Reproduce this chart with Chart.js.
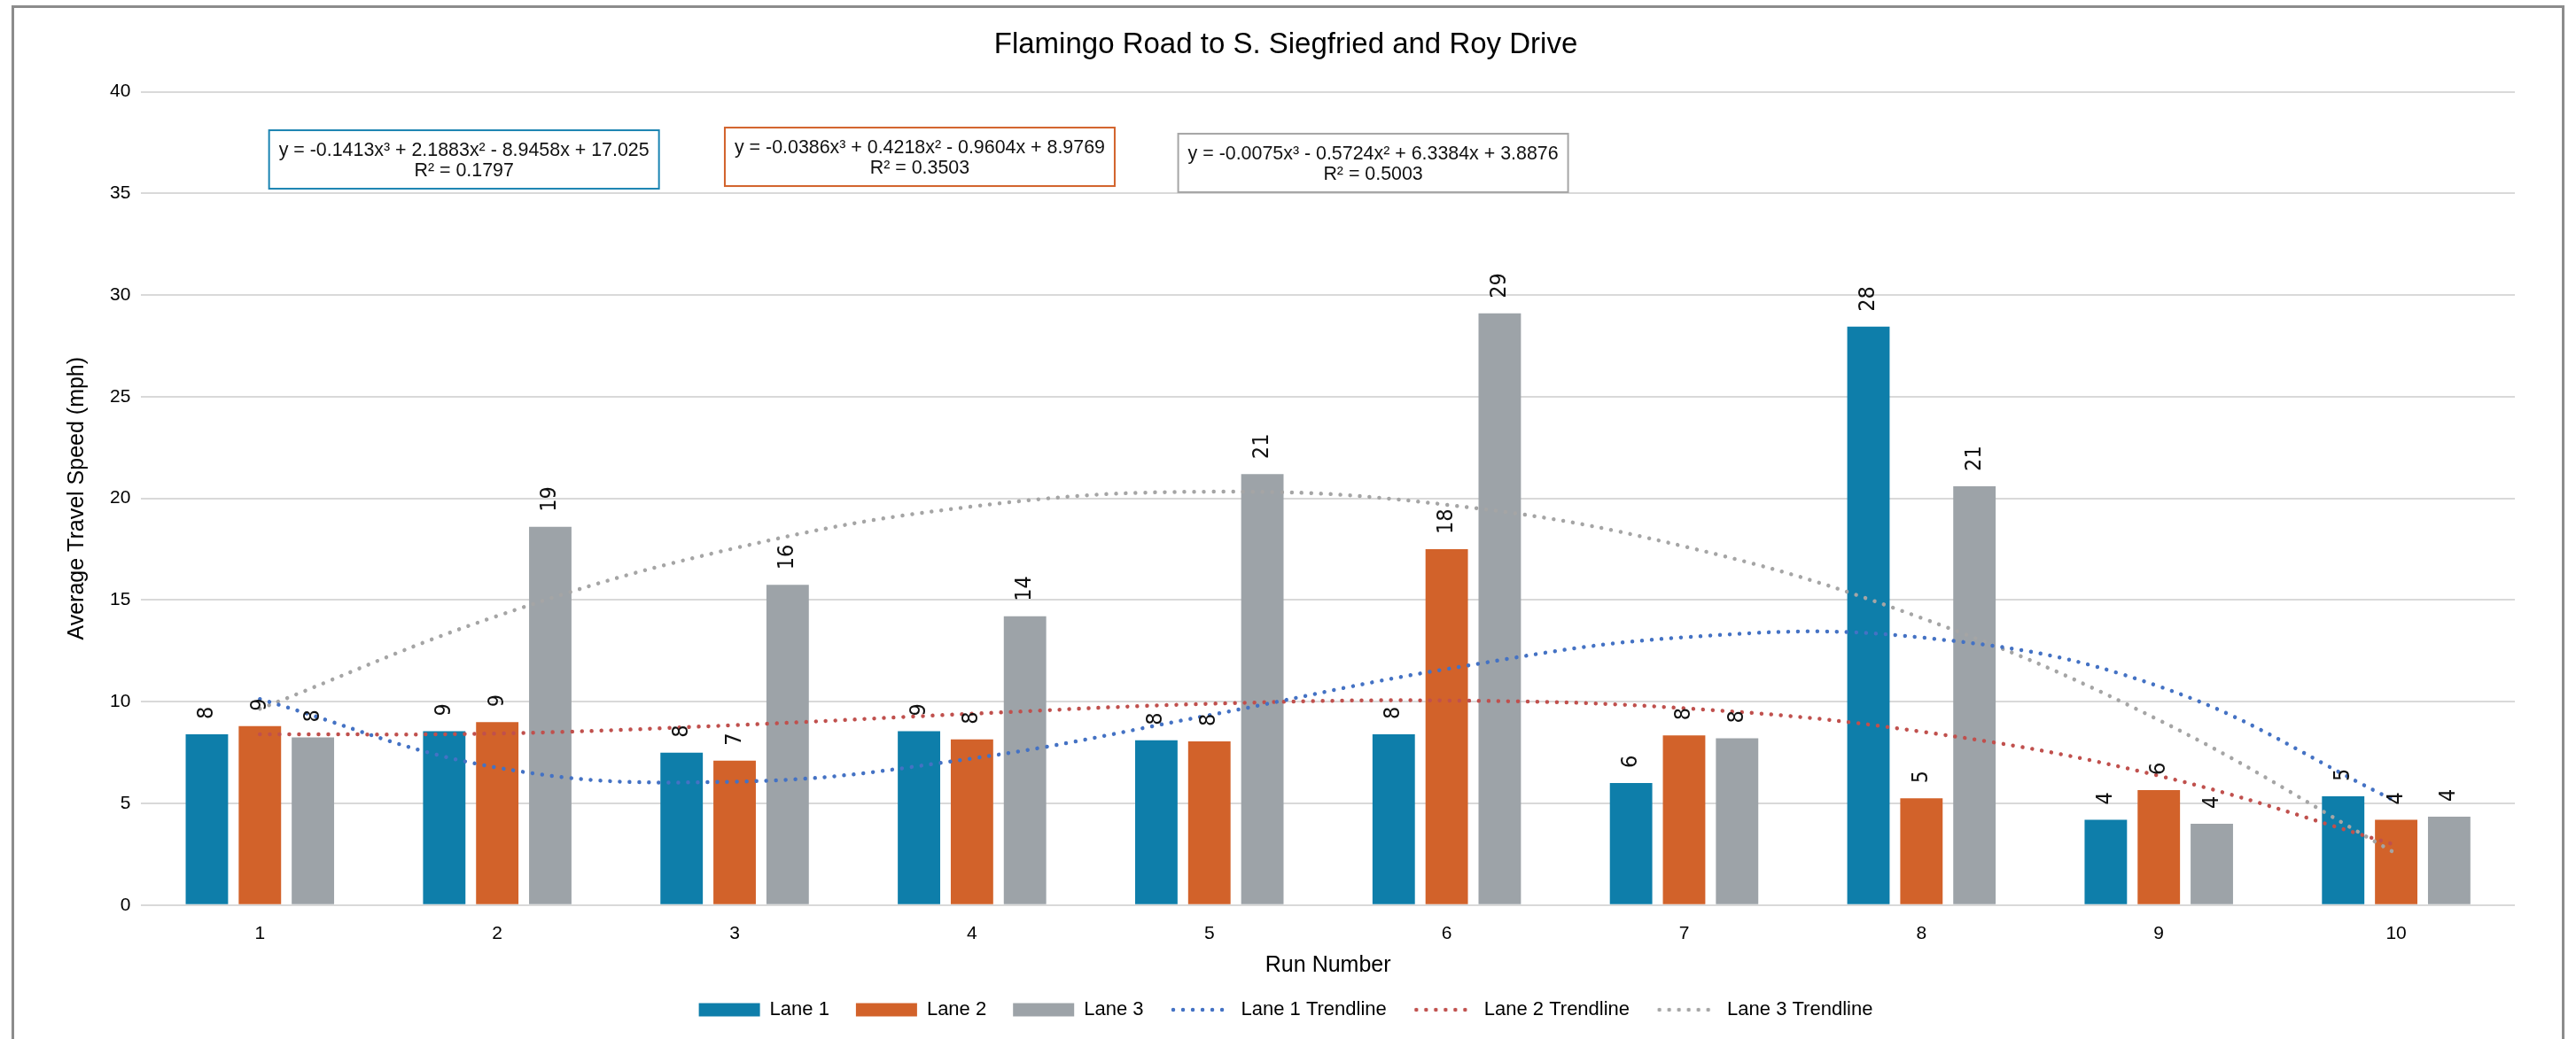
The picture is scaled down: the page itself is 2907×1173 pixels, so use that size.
<!DOCTYPE html>
<html>
<head>
<meta charset="utf-8">
<title>Flamingo Road to S. Siegfried and Roy Drive</title>
<script src="https://cdn.jsdelivr.net/npm/chart.js@4.4.1/dist/chart.umd.min.js"></script>
<style>
  html, body { margin: 0; padding: 0; background: #fff; }
  #wrap { position: relative; width: 2907px; height: 1173px; overflow: hidden; }
  #frame { position: absolute; left: 13px; top: 6px; width: 2881px; height: 1220px; border: 3px solid #8c8c8c; box-sizing: border-box; }
  #chart { position: absolute; left: 0; top: 0; }
</style>
</head>
<body>
<div id="wrap">
  <div id="frame"></div>
  <canvas id="chart" width="2907" height="1173"></canvas>
</div>
<script>
const chartTitle = 'Flamingo Road to S. Siegfried and Roy Drive';
const runs = ['1', '2', '3', '4', '5', '6', '7', '8', '9', '10'];

// average speed per run (mph)
const lane1 = [8.4, 8.55, 7.5, 8.55, 8.1, 8.4, 6.0, 28.45, 4.2, 5.35];
const lane2 = [8.8, 9.0, 7.1, 8.15, 8.05, 17.5, 8.35, 5.25, 5.65, 4.2];
const lane3 = [8.25, 18.6, 15.75, 14.2, 21.2, 29.1, 8.2, 20.6, 4.0, 4.35];

// trendline heights at each run
const trend1 = [10.13, 6.76, 6.07, 7.21, 9.34, 11.61, 13.17, 13.16, 10.76, 5.10];
const trend2 = [8.40, 8.44, 8.85, 9.41, 9.90, 10.06, 9.68, 8.53, 6.36, 2.95];
const trend3 = [9.65, 14.22, 17.55, 19.60, 20.33, 19.69, 17.64, 14.12, 9.10, 2.53];

const yTicks = { min: 0, max: 40, step: 5 };

const equations = [
  ['y = -0.1413x³ + 2.1883x² - 8.9458x + 17.025', 'R² = 0.1797'],
  ['y = -0.0386x³ + 0.4218x² - 0.9604x + 8.9769', 'R² = 0.3503'],
  ['y = -0.0075x³ - 0.5724x² + 6.3384x + 3.8876', 'R² = 0.5003']
];
// where each equation box sits, in (run index, mph)
const eqAnchors = [[0.86, 36.67], [2.78, 36.8], [4.69, 36.5]];
const eqColors = ['#1b84b2', '#d2622a', '#a6a6a6'];

Chart.defaults.font.family = "'Liberation Sans', Arial, sans-serif";
Chart.defaults.color = '#000';

const DOTS = [0.01, 11];

// small dotted sample used as the legend symbol of a trendline
function dottedSwatch(color) {
  const c = document.createElement('canvas');
  c.width = 70;
  c.height = 10;
  const g = c.getContext('2d');
  g.strokeStyle = color;
  g.lineWidth = 4.5;
  g.lineCap = 'round';
  g.setLineDash(DOTS);
  g.beginPath();
  g.moveTo(4, 5);
  g.lineTo(68, 5);
  g.stroke();
  return c;
}

const barLabels = {
  id: 'barLabels',
  afterDatasetsDraw(chart) {
    const ctx = chart.ctx;
    ctx.save();
    ctx.font = "25px 'Liberation Sans Narrow', 'DejaVu Sans Condensed', Arial, sans-serif";
    ctx.fillStyle = '#111';
    ctx.textAlign = 'left';
    ctx.textBaseline = 'middle';
    chart.data.datasets.forEach((ds, i) => {
      if (ds.type !== 'bar') return;
      chart.getDatasetMeta(i).data.forEach((bar, j) => {
        ctx.save();
        ctx.translate(bar.x, bar.y - 17);
        ctx.rotate(-Math.PI / 2);
        ctx.fillText(String(Math.round(ds.data[j])), 0, 0);
        ctx.restore();
      });
    });
    ctx.restore();
  }
};

const eqBoxes = {
  id: 'eqBoxes',
  afterDraw(chart) {
    const { ctx, scales: { x, y } } = chart;
    ctx.save();
    ctx.font = "21.4px 'Liberation Sans', Arial, sans-serif";
    ctx.textAlign = 'center';
    ctx.textBaseline = 'middle';
    equations.forEach((lines, i) => {
      const cx = x.getPixelForValue(eqAnchors[i][0]);
      const cy = y.getPixelForValue(eqAnchors[i][1]);
      const w = Math.max(...lines.map(t => ctx.measureText(t).width)) + 22;
      const h = 66;
      ctx.fillStyle = '#fff';
      ctx.fillRect(cx - w / 2, cy - h / 2, w, h);
      ctx.strokeStyle = eqColors[i];
      ctx.lineWidth = 2;
      ctx.strokeRect(cx - w / 2, cy - h / 2, w, h);
      ctx.fillStyle = '#111';
      ctx.fillText(lines[0], cx, cy - 10);
      ctx.fillText(lines[1], cx, cy + 13);
    });
    ctx.restore();
  }
};

const barSet = (label, data, color) => ({
  type: 'bar', label, data,
  backgroundColor: color, borderWidth: 0,
  categoryPercentage: 0.67, barPercentage: 0.8,
  order: 2
});

const trendSet = (label, data, color) => ({
  type: 'line', label, data,
  borderColor: color, backgroundColor: color,
  borderWidth: 4.5, borderDash: DOTS, borderCapStyle: 'round',
  pointRadius: 0, tension: 0.4, fill: false,
  order: 1
});

new Chart(document.getElementById('chart'), {
  type: 'bar',
  data: {
    labels: runs,
    datasets: [
      barSet('Lane 1', lane1, '#0e7eaa'),
      barSet('Lane 2', lane2, '#d2622a'),
      barSet('Lane 3', lane3, '#9da3a8'),
      trendSet('Lane 1 Trendline', trend1, '#4472c4'),
      trendSet('Lane 2 Trendline', trend2, '#c0504d'),
      trendSet('Lane 3 Trendline', trend3, '#a5a5a5')
    ]
  },
  options: {
    responsive: false,
    animation: false,
    layout: { padding: { left: 64, right: 69, top: 0, bottom: 12 } },
    plugins: {
      title: {
        display: true, text: chartTitle, color: '#000',
        font: { size: 33, weight: 'normal' },
        padding: { top: 31.5, bottom: 32.5 }
      },
      legend: {
        position: 'bottom',
        labels: {
          usePointStyle: true, pointStyleWidth: 69, boxHeight: 15,
          padding: 30, color: '#000', font: { size: 22 },
          generateLabels(chart) {
            const items = Chart.defaults.plugins.legend.labels.generateLabels(chart);
            items.forEach(it => {
              const ds = chart.data.datasets[it.datasetIndex];
              it.pointStyle = ds.type === 'line' ? dottedSwatch(ds.borderColor) : 'rect';
            });
            return items.sort((a, b) => a.datasetIndex - b.datasetIndex);
          }
        }
      },
      tooltip: { enabled: false }
    },
    scales: {
      x: {
        grid: { display: false, drawTicks: false },
        border: { display: false },
        ticks: { font: { size: 21 }, color: '#000', padding: 20 },
        title: {
          display: true, text: 'Run Number', color: '#000',
          font: { size: 25 }, padding: { top: -12, bottom: -6 }
        }
      },
      y: {
        min: yTicks.min, max: yTicks.max,
        ticks: { stepSize: yTicks.step, font: { size: 21 }, color: '#000', padding: 12 },
        grid: { color: '#d9d9d9', lineWidth: 2, drawTicks: false },
        border: { display: false },
        title: {
          display: true, text: 'Average Travel Speed (mph)', color: '#000',
          font: { size: 25 }, padding: { top: 8, bottom: 10 }
        }
      }
    }
  },
  plugins: [barLabels, eqBoxes]
});
</script>
</body>
</html>
